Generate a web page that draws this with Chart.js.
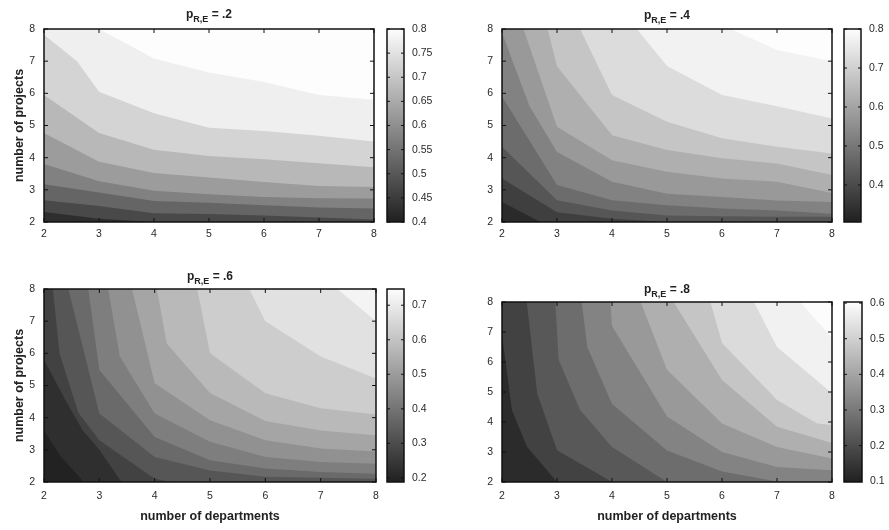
<!DOCTYPE html>
<html>
<head>
<meta charset="utf-8">
<script src="https://cdn.jsdelivr.net/npm/chart.js@4.4.1/dist/chart.umd.min.js"></script>
<style>
  body { margin: 0; background: #fff; }
  #wrap { position: relative; width: 889px; height: 530px; overflow: hidden; font-family: "Liberation Sans", Arial, sans-serif; }
  canvas { position: absolute; }
  .ttl { position: absolute; text-align: center; font-weight: bold; font-size: 12px; line-height: 15px; color: #222; }
  .ttl sub { font-size: 9px; vertical-align: -4px; line-height: 0; }
</style>
</head>
<body>
<div id="wrap"></div>
<script>
// axis ticks (departments on x, projects on y)
const xTicks = [2, 3, 4, 5, 6, 7, 8];
const yTicks = [2, 3, 4, 5, 6, 7, 8];
const pRE = ['.2', '.4', '.6', '.8'];

// panel p = .2 : contour levels, colour range, colourbar ticks, boundary curves [x, y]
const levelsA = [0.45, 0.5, 0.55, 0.6, 0.65, 0.7, 0.75, 0.8];
const rangeA = [0.4, 0.8];
const cbTicksA = [0.4, 0.45, 0.5, 0.55, 0.6, 0.65, 0.7, 0.75, 0.8];
const contoursA = [
  [[2, 2.31], [3, 2.1], [4, 2.0], [5, 1.95], [8, 1.85]],
  [[2, 2.68], [3, 2.5], [4, 2.27], [5, 2.25], [6, 2.2], [7, 2.14], [8, 2.08]],
  [[2, 3.17], [3, 2.92], [4, 2.65], [5, 2.6], [6, 2.52], [7, 2.45], [8, 2.42]],
  [[2, 3.8], [3, 3.27], [4, 2.97], [5, 2.86], [6, 2.78], [7, 2.74], [8, 2.73]],
  [[2, 4.77], [3, 3.87], [4, 3.52], [5, 3.38], [6, 3.24], [7, 3.12], [8, 3.09]],
  [[2, 5.95], [3, 4.77], [4, 4.25], [5, 4.05], [6, 3.95], [7, 3.83], [8, 3.7]],
  [[2, 7.82], [2.6, 7.0], [3, 6.05], [4, 5.38], [5, 4.93], [6, 4.83], [7, 4.68], [8, 4.5]],
  [[2, 9.6], [3, 8.0], [4, 7.08], [5, 6.65], [6, 6.35], [7, 5.95], [8, 5.8]]
];

// panel p = .4
const levelsB = [0.35, 0.4, 0.45, 0.5, 0.55, 0.6, 0.65, 0.7, 0.75, 0.8];
const rangeB = [0.305, 0.8];
const cbTicksB = [0.4, 0.5, 0.6, 0.7, 0.8];
const contoursB = [
  [[2, 2.62], [2.7, 2.0], [3, 1.8], [8, 1.5]],
  [[2, 3.35], [3, 2.3], [4, 2.1], [5, 2.0], [8, 1.85]],
  [[2, 4.34], [3, 2.68], [4, 2.36], [5, 2.2], [6, 2.18], [7, 2.16], [8, 2.16]],
  [[2, 5.9], [3, 3.15], [4, 2.68], [5, 2.52], [6, 2.42], [7, 2.36], [8, 2.26]],
  [[2, 7.88], [2.5, 5.6], [3, 4.18], [4, 3.25], [5, 2.88], [6, 2.78], [7, 2.67], [8, 2.62]],
  [[2, 10], [2.39, 8], [3, 4.96], [4, 3.92], [5, 3.56], [6, 3.35], [7, 3.25], [8, 2.9]],
  [[2, 12], [2.83, 8], [3, 6.84], [4, 4.7], [5, 4.24], [6, 3.98], [7, 3.82], [8, 3.46]],
  [[2, 13], [3.42, 8], [4, 5.95], [5, 5.12], [6, 4.6], [7, 4.34], [8, 4.13]],
  [[2, 14], [4.45, 8], [5, 6.85], [6, 5.95], [7, 5.6], [8, 5.22]],
  [[2, 15], [6.15, 8], [7, 7.35], [8, 7.0]]
];

// panel p = .6
const levelsC = [0.2, 0.25, 0.3, 0.35, 0.4, 0.45, 0.5, 0.55, 0.6, 0.65, 0.7];
const rangeC = [0.188, 0.747];
const cbTicksC = [0.2, 0.3, 0.4, 0.5, 0.6, 0.7];
const contoursC = [
  [[2, 3.6], [2.3, 2.8], [2.72, 2.0], [3, 1.6], [8, 1.0]],
  [[2, 5.8], [2.4, 4.5], [2.7, 3.6], [3, 3.0], [3.4, 2.0], [4, 1.5], [8, 1.0]],
  [[2, 10], [2.16, 8], [2.28, 6.0], [2.62, 4.15], [3, 3.3], [4, 2.1], [4.3, 2.0], [8, 1.5]],
  [[2, 12], [2.44, 8], [3, 4.13], [4, 2.78], [5, 2.36], [6, 2.16], [8, 2.1]],
  [[2, 14], [2.8, 8], [3, 5.48], [4, 3.4], [5, 2.68], [6, 2.42], [7, 2.31], [8, 2.26]],
  [[2, 15], [3.16, 8], [3.37, 5.9], [4, 4.13], [5, 3.25], [6, 2.78], [7, 2.62], [8, 2.57]],
  [[2, 16], [3.59, 8], [4, 5.07], [5, 3.92], [6, 3.3], [7, 3.04], [8, 2.95]],
  [[2, 17], [4.04, 8], [4.22, 6.3], [5, 4.77], [6, 3.9], [7, 3.6], [8, 3.45]],
  [[2, 18], [4.77, 8], [5, 6.0], [6, 4.76], [7, 4.29], [8, 4.1]],
  [[2, 19], [5.71, 8], [6, 7.0], [7, 5.9], [8, 5.22]],
  [[2, 20], [7.3, 8], [8, 7.0]]
];

// panel p = .8
const levelsD = [0.15, 0.2, 0.25, 0.3, 0.35, 0.4, 0.45, 0.5, 0.55, 0.6];
const rangeD = [0.098, 0.603];
const cbTicksD = [0.1, 0.2, 0.3, 0.4, 0.5, 0.6];
const contoursD = [
  [[2, 6.9], [2.18, 4.4], [2.45, 3.18], [3, 2.0], [3.5, 1.5], [8, 1.0]],
  [[2, 10], [2.45, 8], [2.64, 4.95], [3, 3.06], [4, 2.0], [5, 1.6], [8, 1.2]],
  [[2, 12], [2.97, 8], [3.03, 6.07], [3.42, 4.4], [4, 3.17], [5, 2.0], [6, 1.7], [8, 1.3]],
  [[2, 13], [3.45, 8], [3.55, 6.5], [4, 4.6], [5, 3.05], [6, 2.35], [7, 2.02], [8, 1.9]],
  [[2, 14], [3.97, 8], [4, 7.2], [5, 4.18], [6, 3.0], [7, 2.5], [8, 2.39]],
  [[2, 15], [4.52, 8], [5, 5.74], [6, 3.95], [7, 3.17], [8, 2.78]],
  [[2, 16], [5.12, 8], [6, 5.4], [7, 3.84], [8, 3.3]],
  [[2, 17], [5.79, 8], [6, 6.63], [7, 4.73], [7.73, 3.95], [8, 3.9]],
  [[2, 18], [6.58, 8], [7, 6.5], [8, 4.96]],
  [[2, 19], [7.42, 8], [8, 6.8]]
];

const tickFont = { family: '"Liberation Sans", Arial, sans-serif', size: 10.5 };
const titleFont = { family: '"Liberation Sans", Arial, sans-serif', size: 12.5, weight: 'bold' };
const tickColor = '#2a2a2a';

// grey colour map, dark at the bottom of the range and white at the top
function gray(t) {
  t = Math.max(0, Math.min(1, t));
  const v = Math.round(0x20 + t * (0xfd - 0x20));
  return `rgb(${v},${v},${v})`;
}

function bandColors(levels, range) {
  const cols = [];
  for (let i = 0; i <= levels.length; i++) {
    const lo = i === 0 ? range[0] : levels[i - 1];
    const hi = i === levels.length ? range[1] : levels[i];
    cols.push(gray(((lo + hi) / 2 - range[0]) / (range[1] - range[0])));
  }
  return cols;
}

// no extra space for labels overflowing the plot edges
function noOverflow(s) {
  s.paddingLeft = 0; s.paddingRight = 0; s.paddingTop = 0; s.paddingBottom = 0;
}

// draws the box, inward tick marks and the lowest band under the fills
const frame = {
  id: 'frame',
  beforeDatasetsDraw(chart, args, o) {
    if (!o.under) return;
    const a = chart.chartArea;
    chart.ctx.save();
    chart.ctx.fillStyle = o.under;
    chart.ctx.fillRect(a.left, a.top, a.width, a.height);
    chart.ctx.restore();
  },
  afterDatasetsDraw(chart, args, o) {
    const { ctx, chartArea: a, scales } = chart;
    ctx.save();
    ctx.strokeStyle = '#111';
    ctx.lineWidth = 1;
    ctx.beginPath();
    if (o.xt) o.xt.forEach(v => {
      const px = scales.x.getPixelForValue(v);
      ctx.moveTo(px, a.bottom); ctx.lineTo(px, a.bottom - o.len);
      ctx.moveTo(px, a.top); ctx.lineTo(px, a.top + o.len);
    });
    if (o.yt) o.yt.forEach(v => {
      const py = scales.y.getPixelForValue(v);
      ctx.moveTo(a.left, py); ctx.lineTo(a.left + o.len, py);
      ctx.moveTo(a.right, py); ctx.lineTo(a.right - o.len, py);
    });
    ctx.stroke();
    ctx.lineWidth = 1.5;
    ctx.strokeRect(a.left, a.top, a.width, a.height);
    ctx.restore();
  }
};

const wrap = document.getElementById('wrap');

function addCanvas(l, t, w, h) {
  const c = document.createElement('canvas');
  c.width = w; c.height = h;
  c.style.left = l + 'px'; c.style.top = t + 'px';
  c.style.width = w + 'px'; c.style.height = h + 'px';
  wrap.appendChild(c);
  return c;
}

function plotChart(p) {
  const b = p.box;
  const cv = addCanvas(b.l - 44, b.t - 8, b.w + 52, b.h + 8 + p.bottom);
  const cols = bandColors(p.levels, p.range);
  const datasets = p.contours.map((c, i) => ({
    data: c.map(([x, y]) => ({ x, y })),
    fill: 'end',
    backgroundColor: cols[i + 1],
    borderColor: 'rgba(0,0,0,0)',
    borderWidth: 0,
    pointRadius: 0,
    tension: 0,
    order: p.contours.length - i
  }));
  new Chart(cv, {
    type: 'line',
    data: { datasets },
    options: {
      responsive: false,
      animation: false,
      events: [],
      layout: { padding: { left: 0, top: 8, right: 8, bottom: 0 } },
      plugins: {
        legend: { display: false },
        tooltip: { enabled: false },
        frame: { under: cols[0], xt: xTicks, yt: yTicks, len: 4 }
      },
      scales: {
        x: {
          type: 'linear', min: 2, max: 8,
          afterBuildTicks: s => { s.ticks = xTicks.map(v => ({ value: v })); },
          ticks: { padding: p.xPad, font: tickFont, color: tickColor, autoSkip: false, maxRotation: 0 },
          grid: { display: false, drawTicks: false },
          border: { display: false },
          title: { display: p.xTitle, text: 'number of departments', font: titleFont, color: '#222', padding: { top: 0, bottom: 5.5 } },
          afterFit: s => { s.height = p.bottom; noOverflow(s); }
        },
        y: {
          type: 'linear', min: 2, max: 8,
          afterBuildTicks: s => { s.ticks = yTicks.map(v => ({ value: v })); },
          ticks: { padding: 9, font: tickFont, color: tickColor, autoSkip: false },
          grid: { display: false, drawTicks: false },
          border: { display: false },
          title: { display: p.yTitle, text: 'number of projects', font: titleFont, color: '#222', padding: { top: 12.5, bottom: 0 } },
          afterFit: s => { s.width = 44; noOverflow(s); }
        }
      }
    },
    plugins: [frame]
  });
}

function colorbarChart(p) {
  const b = p.box, cb = p.cb;
  const cv = addCanvas(cb.l - 8, b.t - 8, cb.w + 48, b.h + 16);
  const grad = chart => {
    const a = chart.chartArea;
    if (!a) return gray(0.5);
    const g = chart.ctx.createLinearGradient(0, a.bottom, 0, a.top);
    g.addColorStop(0, gray(0));
    g.addColorStop(1, gray(1));
    return g;
  };
  new Chart(cv, {
    type: 'bar',
    data: {
      labels: [''],
      datasets: [{
        data: [p.range],
        backgroundColor: ctx => grad(ctx.chart),
        borderWidth: 0,
        barPercentage: 1,
        categoryPercentage: 1
      }]
    },
    options: {
      responsive: false,
      animation: false,
      events: [],
      layout: { padding: { left: 8, top: 8, right: 0, bottom: 8 } },
      plugins: {
        legend: { display: false },
        tooltip: { enabled: false },
        frame: { yt: p.cbTicks, len: 3 }
      },
      scales: {
        x: { display: false },
        y: {
          position: 'right', min: p.range[0], max: p.range[1],
          afterBuildTicks: s => { s.ticks = p.cbTicks.map(v => ({ value: v })); },
          ticks: { padding: 8, font: tickFont, color: tickColor, autoSkip: false, callback: v => String(v) },
          grid: { display: false, drawTicks: false },
          border: { display: false },
          afterFit: s => { s.width = 40; noOverflow(s); }
        }
      }
    },
    plugins: [frame]
  });
}

function addTitle(p, label) {
  const d = document.createElement('div');
  d.className = 'ttl';
  d.style.left = p.box.l + 'px';
  d.style.width = p.box.w + 'px';
  d.style.top = p.titleTop + 'px';
  d.innerHTML = 'p<sub>R,E</sub> = ' + label;
  wrap.appendChild(d);
}

const panels = [
  { levels: levelsA, range: rangeA, cbTicks: cbTicksA, contours: contoursA,
    box: { l: 44, t: 29, w: 330, h: 193 }, cb: { l: 387, w: 17 },
    bottom: 24, xPad: 6, xTitle: false, yTitle: true, titleTop: 6.5 },
  { levels: levelsB, range: rangeB, cbTicks: cbTicksB, contours: contoursB,
    box: { l: 502, t: 29, w: 330, h: 193 }, cb: { l: 844, w: 17 },
    bottom: 24, xPad: 6, xTitle: false, yTitle: false, titleTop: 7.5 },
  { levels: levelsC, range: rangeC, cbTicks: cbTicksC, contours: contoursC,
    box: { l: 44, t: 289, w: 332, h: 193 }, cb: { l: 387, w: 17 },
    bottom: 48, xPad: 8, xTitle: true, yTitle: true, titleTop: 269 },
  { levels: levelsD, range: rangeD, cbTicks: cbTicksD, contours: contoursD,
    box: { l: 502, t: 302, w: 330, h: 180 }, cb: { l: 844, w: 18 },
    bottom: 48, xPad: 8, xTitle: true, yTitle: false, titleTop: 281.5 }
];

panels.forEach((p, i) => {
  plotChart(p);
  colorbarChart(p);
  addTitle(p, pRE[i]);
});
</script>
</body>
</html>
